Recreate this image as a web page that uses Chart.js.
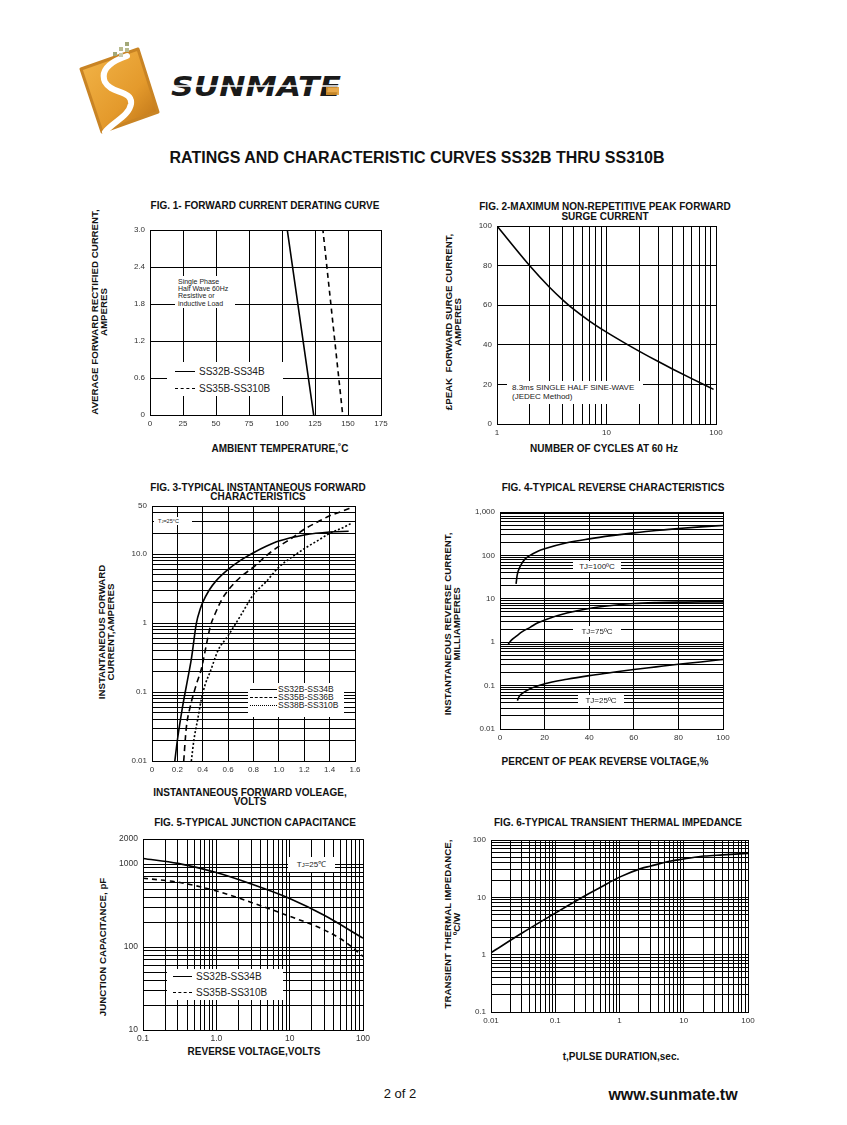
<!DOCTYPE html>
<html>
<head>
<meta charset="utf-8">
<script src="https://cdn.jsdelivr.net/npm/chart.js@4.4.1/dist/chart.umd.min.js"></script>
<style>
  body { margin: 0; background: #fff; width: 847px; height: 1125px; position: relative; overflow: hidden;
         font-family: "Liberation Sans", Arial, sans-serif; color: #111; }
  canvas { position: absolute; }
  .t { position: absolute; font-weight: bold; font-size: 10px; line-height: 10px; white-space: nowrap;
       text-align: center; transform: translateX(-50%); }
  .yt { position: absolute; font-weight: bold; font-size: 9.7px; line-height: 9px; white-space: nowrap;
        text-align: center; transform: translate(-50%, -50%) rotate(-90deg); }
  .box { position: absolute; background: #fff; white-space: nowrap; z-index: 2; color: #222; }
  .row { position: absolute; display: flex; align-items: center; }
  .smp { display: inline-block; border-top: 1px solid #000; margin-right: 4px; }
  .dash { border-top-style: dashed; }
  .dot { border-top-style: dotted; }
</style>
</head>
<body>

<!-- header -->
<svg style="position:absolute;left:75px;top:38px" width="275" height="98">
  <defs>
    <linearGradient id="og" x1="0" y1="0" x2="1" y2="1">
      <stop offset="0" stop-color="#f3b64a"/>
      <stop offset="0.6" stop-color="#e49a2c"/>
      <stop offset="1" stop-color="#b86e14"/>
    </linearGradient>
  </defs>
  <polygon points="6,31 63,11 83,74 27,94" fill="url(#og)" stroke="#c98424" stroke-width="3" stroke-linejoin="round"/>
  <path d="M52,18 C40,22 24,30 30,44 C36,56 58,52 56,66 C54,78 38,84 30,94" fill="none" stroke="#fff" stroke-width="6" stroke-linecap="round"/>
  <rect x="38" y="14" width="4" height="4" fill="#a3a878"/>
  <rect x="44" y="9" width="4" height="4" fill="#b9bb8f"/>
  <rect x="50" y="4" width="4" height="4" fill="#a3a878"/>
  <rect x="44" y="15" width="4" height="4" fill="#c8c9a8"/>
  <rect x="50" y="10" width="4" height="4" fill="#b9bb8f"/>
  <text x="96" y="58" font-family="DejaVu Sans" font-weight="bold" font-style="italic" font-size="27"
        textLength="170" lengthAdjust="spacingAndGlyphs" fill="#1a1a1a">SUNMATE</text>
  <line x1="94" y1="48" x2="268" y2="48" stroke="#fff" stroke-width="1.6"/>
  <rect x="251" y="49" width="13" height="8" fill="#e49a2c" opacity="0.85"/>
</svg>
<div class="t" style="left:417px;top:149px;font-size:16px;line-height:18px">RATINGS AND CHARACTERISTIC CURVES SS32B THRU SS310B</div>

<!-- fig 1 -->
<div class="t" style="left:265px;top:201px">FIG. 1- FORWARD CURRENT DERATING CURVE</div>
<div class="yt" style="left:99px;top:312px">AVERAGE FORWARD RECTIFIED CURRENT,<br>AMPERES</div>
<div class="t" style="left:280px;top:444px">AMBIENT TEMPERATURE,˚C</div>
<canvas id="c1"></canvas>
<div class="box" style="left:175px;top:276px;width:60px;height:32px;font-size:7px;line-height:7.4px;padding:1.5px 0 0 3px;box-sizing:border-box">Single Phase<br>Half Wave 60Hz<br>Resistive or<br>inductive Load</div>
<div class="box" style="left:167px;top:362px;width:116px;height:34px;font-size:10px">
  <div class="row" style="left:8px;top:3px;height:12px"><span class="smp" style="width:20px"></span>SS32B-SS34B</div>
  <div class="row" style="left:8px;top:20px;height:12px"><span class="smp dash" style="width:20px"></span>SS35B-SS310B</div>
</div>

<!-- fig 2 -->
<div class="t" style="left:605px;top:202px">FIG. 2-MAXIMUM NON-REPETITIVE PEAK FORWARD<br>SURGE CURRENT</div>
<div class="yt" style="left:453px;top:322px">£PEAK&nbsp; FORWARD SURGE CURRENT,<br>AMPERES</div>
<div class="t" style="left:604px;top:444px">NUMBER OF CYCLES AT 60 Hz</div>
<canvas id="c2"></canvas>
<div class="box" style="left:507px;top:381px;width:136px;height:23px;font-size:8px;line-height:9px;padding:1.5px 0 0 5px;box-sizing:border-box">8.3ms SINGLE HALF SINE-WAVE<br>(JEDEC Method)</div>

<!-- fig 3 -->
<div class="t" style="left:258px;top:483px;line-height:9px">FIG. 3-TYPICAL INSTANTANEOUS FORWARD<br>CHARACTERISTICS</div>
<div class="yt" style="left:106px;top:632px">INSTANTANEOUS FORWARD<br>CURRENT,AMPERES</div>
<div class="t" style="left:250px;top:788px;line-height:9px">INSTANTANEOUS FORWARD VOLEAGE,<br>VOLTS</div>
<canvas id="c3"></canvas>
<div class="box" style="left:154px;top:517px;width:38px;height:8px;font-size:5.5px;line-height:8px;padding-left:4px;box-sizing:border-box">T<span style="font-size:4px">J</span>=25°C</div>
<div class="box" style="left:248px;top:683px;width:96px;height:34px;font-size:8.5px">
  <div class="row" style="left:2px;top:2px;height:8px"><span class="smp" style="width:27px;margin-right:1px"></span>SS32B-SS34B</div>
  <div class="row" style="left:2px;top:10px;height:8px"><span class="smp dash" style="width:27px;margin-right:1px"></span>SS35B-SS36B</div>
  <div class="row" style="left:2px;top:18px;height:8px"><span class="smp dot" style="width:27px;margin-right:1px"></span>SS38B-SS310B</div>
</div>

<!-- fig 4 -->
<div class="t" style="left:613px;top:483px">FIG. 4-TYPICAL REVERSE CHARACTERISTICS</div>
<div class="yt" style="left:452px;top:624px">INSTANTANEOUS REVERSE CURRENT,<br>MILLIAMPERES</div>
<div class="t" style="left:605px;top:757px">PERCENT OF PEAK REVERSE VOLTAGE,%</div>
<canvas id="c4"></canvas>
<div class="box" style="left:573px;top:561px;width:48px;height:11px;font-size:8px;line-height:11px;text-align:center">TJ=100ºC</div>
<div class="box" style="left:573px;top:626px;width:48px;height:11px;font-size:8px;line-height:11px;text-align:center">TJ=75ºC</div>
<div class="box" style="left:578px;top:695px;width:46px;height:11px;font-size:8px;line-height:11px;text-align:center">TJ=25ºC</div>

<!-- fig 5 -->
<div class="t" style="left:255px;top:818px">FIG. 5-TYPICAL JUNCTION CAPACITANCE</div>
<div class="yt" style="left:102px;top:947px">JUNCTION CAPACITANCE, pF</div>
<div class="t" style="left:254px;top:1047px">REVERSE VOLTAGE,VOLTS</div>
<canvas id="c5"></canvas>
<div class="box" style="left:288px;top:857px;width:47px;height:15px;font-size:8px;line-height:15px;text-align:center">T<span style="font-size:6px">J</span>=25℃</div>
<div class="box" style="left:167px;top:969px;width:116px;height:31px;font-size:10px">
  <div class="row" style="left:6px;top:1px;height:12px"><span class="smp" style="width:19px"></span>SS32B-SS34B</div>
  <div class="row" style="left:6px;top:17px;height:12px"><span class="smp dash" style="width:19px"></span>SS35B-SS310B</div>
</div>

<!-- fig 6 -->
<div class="t" style="left:618px;top:818px">FIG. 6-TYPICAL TRANSIENT THERMAL IMPEDANCE</div>
<div class="yt" style="left:452px;top:924px">TRANSIENT THERMAL IMPEDANCE,<br>ºC/W</div>
<div class="t" style="left:621px;top:1052px">t,PULSE DURATION,sec.</div>
<canvas id="c6"></canvas>

<!-- footer -->
<div class="t" style="left:400px;top:1087px;font-weight:normal;font-size:13px;line-height:14px">2 of 2</div>
<div class="t" style="left:673px;top:1087px;font-size:16px;line-height:16px">www.sunmate.tw</div>

<script>
// ---- fig 1: forward current derating
const fig1SolidTemp = [0, 104, 124];
const fig1SolidAmps = [3.0, 3.0, 0];
const fig1DashTemp = [0, 131, 146];
const fig1DashAmps = [3.0, 3.0, 0];
const fig1XTicks = [0, 25, 50, 75, 100, 125, 150, 175];
const fig1XLabels = ['0', '25', '50', '75', '100', '125', '150', '175'];
const fig1YTicks = [0, 0.6, 1.2, 1.8, 2.4, 3.0];
const fig1YLabels = ['0', '0.6', '1.2', '1.8', '2.4', '3.0'];

// ---- fig 2: peak forward surge current
const fig2Cycles = [1, 2, 3, 4, 5, 7, 10, 15, 20, 30, 40, 60, 95];
const fig2Amps = [100, 79.8, 69.2, 62.6, 58, 52, 46.4, 40.6, 36.7, 31.4, 27.8, 22.9, 17.5];
const fig2XTicks = [1, 10, 100];
const fig2XLabels = ['1', '10', '100'];
const fig2YTicks = [0, 20, 40, 60, 80, 100];
const fig2YLabels = ['0', '20', '40', '60', '80', '100'];

// ---- fig 3: instantaneous forward characteristics
const fig3SolidV = [0.18, 0.2, 0.24, 0.28, 0.31, 0.35, 0.38, 0.40, 0.45, 0.5, 0.6, 0.7, 0.8, 0.9, 1.0, 1.2, 1.4, 1.55];
const fig3SolidI = [0.01, 0.02, 0.06, 0.15, 0.3, 1.0, 1.6, 2.0, 3.0, 4.0, 6.0, 8.2, 10.5, 13, 15.5, 19, 21, 21.5];
const fig3DashV = [0.25, 0.27, 0.3, 0.35, 0.39, 0.43, 0.46, 0.5, 0.55, 0.6, 0.7, 0.8, 0.9, 1.0, 1.1, 1.2, 1.3, 1.4, 1.5, 1.58];
const fig3DashI = [0.01, 0.03, 0.06, 0.13, 0.22, 0.5, 0.9, 1.4, 2.2, 3.0, 4.7, 6.5, 9.5, 13, 17, 23, 29, 36, 42, 48];
const fig3DotV = [0.31, 0.33, 0.36, 0.39, 0.42, 0.46, 0.52, 0.6, 0.7, 0.8, 0.9, 1.0, 1.1, 1.2, 1.3, 1.4, 1.5, 1.57];
const fig3DotI = [0.01, 0.02, 0.04, 0.08, 0.13, 0.2, 0.4, 0.66, 1.3, 2.6, 4.0, 6.5, 9, 12, 15.5, 20, 24, 28];
const fig3XTicks = [0, 0.2, 0.4, 0.6, 0.8, 1.0, 1.2, 1.4, 1.6];
const fig3XLabels = ['0', '0.2', '0.4', '0.6', '0.8', '1.0', '1.2', '1.4', '1.6'];
const fig3YTicks = [0.01, 0.1, 1, 10, 50];
const fig3YLabels = ['0.01', '0.1', '1', '10.0', '50'];

// ---- fig 4: reverse characteristics
const fig4T100Pct = [7.2, 7.7, 9, 11, 13.5, 17, 20, 30, 40, 50, 60, 70, 80, 90, 100];
const fig4T100mA = [22, 35, 55, 80, 100, 125, 142, 195, 240, 285, 330, 375, 415, 455, 490];
const fig4T75Pct = [3.7, 5, 7.5, 10, 13.5, 17, 21, 30, 40, 50, 60, 70, 80, 90, 100];
const fig4T75mA = [0.9, 1.1, 1.4, 1.75, 2.2, 2.8, 3.4, 4.7, 6.0, 7.0, 7.8, 8.2, 8.4, 8.5, 8.5];
const fig4T25Pct = [7.8, 8.5, 10, 13.5, 20, 30, 40, 50, 60, 70, 80, 90, 100];
const fig4T25mA = [0.045, 0.055, 0.066, 0.085, 0.11, 0.14, 0.17, 0.2, 0.235, 0.27, 0.31, 0.35, 0.4];
const fig4XTicks = [0, 20, 40, 60, 80, 100];
const fig4XLabels = ['0', '20', '40', '60', '80', '100'];
const fig4YTicks = [0.01, 0.1, 1, 10, 100, 1000];
const fig4YLabels = ['0.01', '0.1', '1', '10', '100', '1,000'];

// ---- fig 5: junction capacitance
const fig5SolidV = [0.1, 0.3, 1, 3, 10, 30, 100];
const fig5SolidPF = [1170, 1020, 790, 575, 385, 240, 128];
const fig5DashV = [0.1, 0.3, 1, 3, 10, 30, 60, 100];
const fig5DashPF = [675, 605, 475, 345, 235, 160, 112, 77];
const fig5XTicks = [0.1, 1, 10, 100];
const fig5XLabels = ['0.1', '1.0', '10', '100'];
const fig5YTicks = [10, 100, 1000, 2000];
const fig5YLabels = ['10', '100', '1000', '2000'];

// ---- fig 6: transient thermal impedance
const fig6Sec = [0.01, 0.03, 0.1, 0.32, 0.5, 1, 2.2, 3, 6.3, 10, 21, 40, 100];
const fig6Imp = [1.08, 2.36, 5.3, 11.3, 14.8, 22.5, 32, 34.9, 43, 46.5, 52.5, 55, 58.5];
const fig6XTicks = [0.01, 0.1, 1, 10, 100];
const fig6XLabels = ['0.01', '0.1', '1', '10', '100'];
const fig6YTicks = [0.1, 1, 10, 100];
const fig6YLabels = ['0.1', '1', '10', '100'];

// gridline positions: 1..9 per decade
function logGrid(min, max) {
  const out = [];
  for (let e = Math.floor(Math.log10(min)); e <= Math.ceil(Math.log10(max)); e++) {
    for (let m = 1; m < 10; m++) {
      const v = +(m * Math.pow(10, e)).toPrecision(6);
      if (v >= min * 0.9999 && v <= max * 1.0001) out.push(v);
    }
  }
  if (out[out.length - 1] < max) out.push(max);
  return out;
}

function axis(type, min, max, grid, tickVals, tickLabels, isX, fontSize) {
  return {
    type: type, min: min, max: max,
    afterBuildTicks(s) { s.ticks = grid.map(v => ({ value: v })); },
    afterFit(s) { if (isX) s.height = 20; else s.width = 40; },
    ticks: {
      autoSkip: false, maxRotation: 0, minRotation: 0, padding: isX ? 4 : 5,
      font: { family: '"Liberation Sans", Arial, sans-serif', size: fontSize || 8 },
      color: '#333',
      callback(v) {
        const i = tickVals.findIndex(t => Math.abs(t - v) <= 1e-6 * Math.abs(t) + 1e-12);
        return i >= 0 ? tickLabels[i] : '';
      }
    },
    grid: { color: '#000', lineWidth: 1, drawTicks: false },
    border: { color: '#000', width: 1 }
  };
}

// straight: plain segments, otherwise monotone cubic
function series(xs, ys, dash, straight) {
  return {
    data: xs.map((x, i) => ({ x: x, y: ys[i] })),
    borderColor: '#000', borderWidth: 1.6, borderDash: dash || [],
    pointRadius: 0, fill: false,
    tension: straight ? 0 : 0.4,
    cubicInterpolationMode: straight ? 'default' : 'monotone'
  };
}

// plot = [left, top, right, bottom] of the plotting area on the page
function makeChart(id, plot, xs, ys, datasets) {
  const l = plot[0], t = plot[1], r = plot[2], b = plot[3];
  const cv = document.getElementById(id);
  cv.width = r - l + 40 + 20;
  cv.height = b - t + 10 + 20;
  cv.style.left = (l - 40) + 'px';
  cv.style.top = (t - 10) + 'px';
  return new Chart(cv, {
    type: 'line',
    data: { datasets: datasets },
    options: {
      responsive: false, animation: false, devicePixelRatio: 1,
      layout: { padding: { top: 10, right: 20, left: 0, bottom: 0 } },
      plugins: { legend: { display: false }, tooltip: { enabled: false } },
      scales: { x: xs, y: ys }
    }
  });
}

makeChart('c1', [150, 230, 381, 415],
  axis('linear', 0, 175, fig1XTicks, fig1XTicks, fig1XLabels, true),
  axis('linear', 0, 3, fig1YTicks, fig1YTicks, fig1YLabels, false),
  [series(fig1SolidTemp, fig1SolidAmps, [], true),
   series(fig1DashTemp, fig1DashAmps, [5, 4], true)]);

makeChart('c2', [497, 226, 716, 424],
  axis('logarithmic', 1, 100, logGrid(1, 100), fig2XTicks, fig2XLabels, true),
  axis('linear', 0, 100, fig2YTicks, fig2YTicks, fig2YLabels, false),
  [series(fig2Cycles, fig2Amps)]);

makeChart('c3', [152, 506, 355, 761],
  axis('linear', 0, 1.6, fig3XTicks, fig3XTicks, fig3XLabels, true),
  axis('logarithmic', 0.01, 50, logGrid(0.01, 50), fig3YTicks, fig3YLabels, false),
  [series(fig3SolidV, fig3SolidI),
   series(fig3DashV, fig3DashI, [6, 4]),
   series(fig3DotV, fig3DotI, [2, 2])]);

makeChart('c4', [500, 512, 723, 729],
  axis('linear', 0, 100, fig4XTicks, fig4XTicks, fig4XLabels, true),
  axis('logarithmic', 0.01, 1000, logGrid(0.01, 1000), fig4YTicks, fig4YLabels, false),
  [series(fig4T100Pct, fig4T100mA),
   series(fig4T75Pct, fig4T75mA),
   series(fig4T25Pct, fig4T25mA)]);

makeChart('c5', [143, 839, 363, 1030],
  axis('logarithmic', 0.1, 100, logGrid(0.1, 100), fig5XTicks, fig5XLabels, true, 8.5),
  axis('logarithmic', 10, 2000, logGrid(10, 2000), fig5YTicks, fig5YLabels, false, 8.5),
  [series(fig5SolidV, fig5SolidPF),
   series(fig5DashV, fig5DashPF, [5, 4])]);

makeChart('c6', [491, 840, 748, 1012],
  axis('logarithmic', 0.01, 100, logGrid(0.01, 100), fig6XTicks, fig6XLabels, true),
  axis('logarithmic', 0.1, 100, logGrid(0.1, 100), fig6YTicks, fig6YLabels, false),
  [series(fig6Sec, fig6Imp)]);
</script>
</body>
</html>
